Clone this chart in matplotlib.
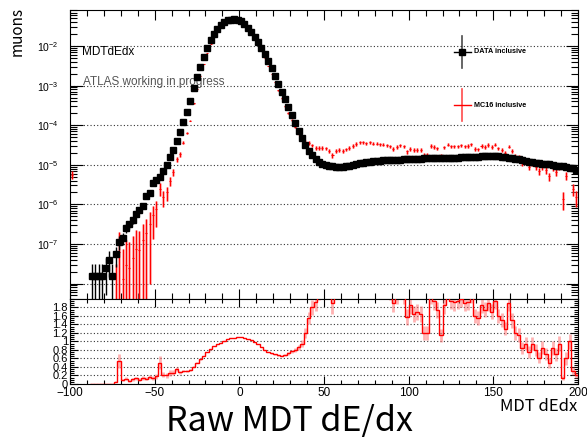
import numpy as np
import matplotlib
matplotlib.use("Agg")
import matplotlib.pyplot as plt
from matplotlib.ticker import FixedLocator, MultipleLocator, AutoMinorLocator, FuncFormatter, NullFormatter

plt.rcParams["font.family"] = ["Liberation Sans", "DejaVu Sans"]
plt.rcParams["mathtext.default"] = "regular"

# 2-unit bins over the MDT dE/dx range
BIN_EDGES = np.arange(-100, 201, 2)

# DATA inclusive, log10(normalised muons) per bin (None = empty bin)
data_log10 = [
    None, None, None, None, None, None, -7.8, -7.8, -7.8, -7.8,          # -99 .. -81
    -7.6, -7.4, -7.8, -7.25, -6.95, -6.85, -6.6, -6.5, -6.4, -6.25,      # -79 .. -61
    -6.15, -6.05, -5.8, -5.7, -5.45, -5.38, -5.3, -5.15, -5.0, -4.8,     # -59 .. -41
    -4.62, -4.4, -4.18, -3.92, -3.67, -3.4, -3.05, -2.78, -2.52, -2.27,  # -39 .. -21
    -2.05, -1.86, -1.7, -1.57, -1.48, -1.4, -1.35, -1.33, -1.32, -1.34,  # -19 .. -1
    -1.38, -1.45, -1.54, -1.65, -1.77, -1.9, -2.04, -2.2, -2.38, -2.56,  # 1 .. 19
    -2.75, -2.95, -3.15, -3.35, -3.55, -3.75, -3.95, -4.15, -4.33, -4.5, # 21 .. 39
    -4.64, -4.76, -4.85, -4.92, -4.97, -5.0, -5.02, -5.04, -5.05, -5.05, # 41 .. 59
    -5.05, -5.04, -5.02, -5.0, -4.98, -4.96, -4.95, -4.93, -4.92, -4.91, # 61 .. 79
    -4.9, -4.9, -4.89, -4.89, -4.88, -4.88, -4.87, -4.87, -4.86, -4.86,  # 81 .. 99
    -4.86, -4.85, -4.85, -4.85, -4.84, -4.84, -4.84, -4.84, -4.83, -4.83,  # 101 .. 119
    -4.83, -4.83, -4.82, -4.82, -4.82, -4.81, -4.81, -4.81, -4.8, -4.8,    # 121 .. 139
    -4.8, -4.79, -4.79, -4.78, -4.78, -4.78, -4.79, -4.8, -4.81, -4.82,    # 141 .. 159
    -4.83, -4.85, -4.86, -4.88, -4.9, -4.92, -4.93, -4.95, -4.96, -4.97,   # 161 .. 179
    -4.98, -4.99, -5.0, -5.02, -5.03, -5.04, -5.05, -5.07, -5.09, -5.12,   # 181 .. 199
]

# MC16 inclusive / DATA per bin (None = no data)
mc_over_data = [
    None, None, None, None, None, None, 0, 0, 0, 0,                  # -99 .. -81
    0, 0, 0, 0.05, 0.55, 0.09, 0.12, 0.08, 0.11, 0.13,               # -79 .. -61
    0.1, 0.14, 0.12, 0.16, 0.15, 0.18, 0.5, 0.22, 0.2, 0.25,         # -59 .. -41
    0.27, 0.35, 0.28, 0.3, 0.3, 0.33, 0.4, 0.5, 0.58, 0.66,          # -39 .. -21
    0.75, 0.83, 0.89, 0.94, 0.97, 1.01, 1.05, 1.08, 1.09, 1.1,       # -19 .. -1
    1.1, 1.09, 1.06, 1.03, 0.99, 0.94, 0.87, 0.8, 0.75, 0.72,        # 1 .. 19
    0.7, 0.68, 0.67, 0.68, 0.72, 0.77, 0.81, 0.86, 0.95, 1.2,        # 21 .. 39
    1.55, 1.8, 1.92, 2.2, 2.5, 2.6, 2.4, 1.9, 2.5, 2.6,              # 41 .. 59
    2.5, 2.7, 2.8, 3.0, 3.2, 3.4, 3.3, 3.0, 3.1, 2.8,                # 61 .. 79
    2.7, 2.6, 2.5, 2.4, 2.2, 1.9, 2.1, 2.3, 2.1, 1.57,               # 81 .. 99
    1.85, 1.65, 1.7, 1.65, 1.2, 1.2, 2.1, 1.95, 1.75, 1.15,          # 101 .. 119
    1.85, 2.2, 1.95, 1.92, 1.95, 2.0, 1.9, 1.93, 2.1, 1.6,           # 121 .. 139
    1.55, 1.85, 1.75, 1.9, 1.7, 1.95, 1.6, 1.5, 1.3, 1.9,            # 141 .. 159
    1.5, 1.2, 1.15, 0.85, 0.95, 0.75, 0.95, 0.8, 0.62, 0.85,         # 161 .. 179
    0.7, 0.5, 0.85, 0.7, 0.95, 0.15, 0.6, 1.0, 0.3, 0.2,             # 181 .. 199
]

# MC has one filled bin where data is empty (first bin)
MC_FIRST_BIN = 10 ** -5.25

# per-event weights, used for the Poisson-like error bars
DATA_EVENT_WEIGHT = 1.6e-8
MC_EVENT_WEIGHT = 3e-7
RATIO_REL_ERR_MAX = 0.3   # ratio band only shown where MC stats are usable

TEXT_FONT = ["Noto Sans CJK SC", "DejaVu Sans"]

centers = 0.5 * (BIN_EDGES[:-1] + BIN_EDGES[1:])
half_w = 0.5 * np.diff(BIN_EDGES)

data = np.array([np.nan if v is None else 10 ** v for v in data_log10])
ratio = np.array([np.nan if v is None else v for v in mc_over_data], dtype=float)
mc = data * ratio
mc[0] = MC_FIRST_BIN

data_err = np.sqrt(data * DATA_EVENT_WEIGHT)
mc_err = np.sqrt(mc * MC_EVENT_WEIGHT)
with np.errstate(divide="ignore", invalid="ignore"):
    mc_rel = mc_err / mc
ratio_err = ratio * np.minimum(mc_rel, RATIO_REL_ERR_MAX)

fig = plt.figure(figsize=(5.87, 4.41), dpi=100)
ax = fig.add_axes([0.1193, 0.322, 0.8654, 0.6553])
rax = fig.add_axes([0.1193, 0.1293, 0.8654, 0.1927])

# ---- top panel
ax.set_yscale("log")
m = np.isfinite(mc) & (mc > 0)
mc_lo = np.minimum(mc_err[m], mc[m] * 0.999)
ax.errorbar(centers[m], mc[m], yerr=[mc_lo, mc_err[m]], fmt="none",
            ecolor=(1, 0.45, 0.45), alpha=0.5, elinewidth=2.2, zorder=1.9)
ax.errorbar(centers[m], mc[m], yerr=[mc_lo, mc_err[m]], xerr=half_w[m] * 0.6,
            fmt="none", ecolor="red", elinewidth=0.8, zorder=2)
d = np.isfinite(data)
ax.errorbar(centers[d], data[d], yerr=[np.minimum(data_err[d], data[d] * 0.999), data_err[d]],
            xerr=half_w[d], fmt="s", color="black", ms=3.8, elinewidth=1.0, capsize=0, zorder=3)

ax.set_xlim(-100, 200)
ax.set_ylim(10 ** -8.39, 10 ** -1.09)
ax.yaxis.set_major_locator(FixedLocator([10.0 ** k for k in range(-8, 0)]))
ax.yaxis.set_minor_locator(FixedLocator([j * 10.0 ** k for k in range(-9, 0) for j in range(2, 10)]))
ax.yaxis.set_major_formatter(FuncFormatter(
    lambda v, p: "" if v < 2e-8 else r"$\mathregular{10^{%d}}$" % round(np.log10(v))))
ax.yaxis.set_minor_formatter(NullFormatter())
ax.xaxis.set_major_locator(MultipleLocator(50))
ax.xaxis.set_minor_locator(MultipleLocator(10))
ax.tick_params(axis="x", labelbottom=False)
ax.tick_params(which="both", direction="in", top=True, right=True, width=0.8)
ax.tick_params(axis="y", which="major", length=9, labelsize=7.5, pad=8)
ax.tick_params(axis="y", which="minor", length=5)
ax.tick_params(axis="x", which="major", length=7)
ax.tick_params(axis="x", which="minor", length=4)
ax.yaxis.grid(True, which="major", ls=(0, (1, 2)), color="#333333", lw=0.8)

ax.text(0.024, 0.855, "MDTdEdx", transform=ax.transAxes, fontsize=8.5, va="center")
ax.text(0.026, 0.751, "ATLAS working in progress", transform=ax.transAxes, fontsize=8.5,
        va="center", color="#555555")

# legend, drawn by hand like the ROOT TLegend
for y, col, label, marker in [(0.855, "black", "DATA inclusive", "s"),
                              (0.671, "red", "MC16 inclusive", None)]:
    ax.plot([0.772, 0.772], [y - 0.055, y + 0.055], color=col, lw=1.2, alpha=0.7,
            transform=ax.transAxes, clip_on=False)
    ax.plot([0.755, 0.789], [y, y], color=col, lw=1.0, transform=ax.transAxes, clip_on=False)
    if marker:
        ax.plot([0.772], [y], marker=marker, color=col, ms=4, transform=ax.transAxes)
    ax.text(0.795, y, label, transform=ax.transAxes, fontsize=5.2, fontweight="bold", va="center")

# ---- ratio panel
rax.stairs(ratio, BIN_EDGES, color="red", lw=1.0, baseline=None, zorder=3)
rm = np.isfinite(ratio_err) & (ratio > 0)
rax.errorbar(centers[rm], ratio[rm], yerr=ratio_err[rm], fmt="none",
             ecolor=(1, 0.4, 0.4), alpha=0.5, elinewidth=2.0, zorder=2)
rax.set_xlim(-100, 200)
rax.set_ylim(0, 2)
rax.yaxis.set_major_locator(FixedLocator(np.round(np.arange(0, 1.81, 0.2), 1)))
rax.yaxis.set_minor_locator(AutoMinorLocator(4))
rax.yaxis.set_major_formatter(FuncFormatter(lambda v, p: "%g" % v))
rax.xaxis.set_major_locator(MultipleLocator(50))
rax.xaxis.set_minor_locator(MultipleLocator(10))
rax.xaxis.set_major_formatter(FuncFormatter(lambda v, p: ("%d" % v).replace("-", "\u2212")))
rax.tick_params(which="both", direction="in", top=True, right=True, width=0.8)
rax.tick_params(axis="y", which="major", length=6, labelsize=8, pad=1.5)
rax.tick_params(axis="y", which="minor", length=3)
rax.tick_params(axis="x", which="major", length=6, labelsize=8.5, pad=2.5)
rax.tick_params(axis="x", which="minor", length=3)
rax.yaxis.grid(True, which="major", ls=(0, (1, 2)), color="#333333", lw=0.8)

fig.text(0.03, 0.985, "muons", rotation=90, ha="center", va="top", fontsize=11,
         family=TEXT_FONT)
fig.text(0.983, 0.068, "MDT dEdx", ha="right", va="baseline", fontsize=12, family=TEXT_FONT)
fig.text(0.494, 0.022, "Raw MDT dE/dx", ha="center", va="baseline", fontsize=24.5,
         family=TEXT_FONT)

fig.savefig("out.png", dpi=100)
